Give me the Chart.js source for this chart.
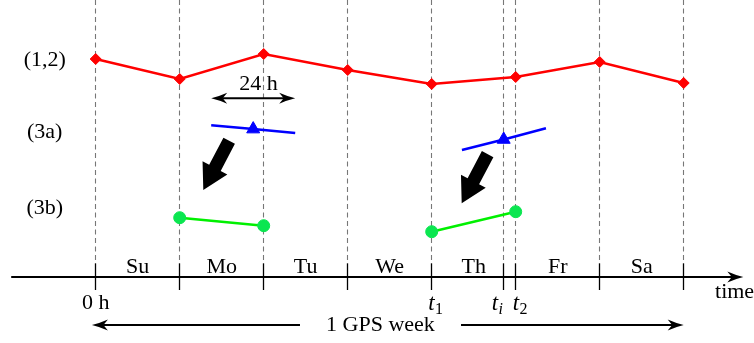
<!DOCTYPE html>
<html>
<head>
<meta charset="utf-8">
<title>GPS week</title>
<script src="https://cdn.jsdelivr.net/npm/chart.js@4.4.1/dist/chart.umd.min.js"></script>
<style>
  html, body { margin: 0; padding: 0; background: #fff; }
  #wrap { width: 754px; height: 343px; }
</style>
</head>
<body>
<div id="wrap"><canvas id="weekChart" width="754" height="343"></canvas></div>
<script>
// ── data (x in days from 0 h, y in arbitrary level units; axis line = 0) ──
const dayNames   = ['Su', 'Mo', 'Tu', 'We', 'Th', 'Fr', 'Sa'];
const dayBounds  = [0, 1, 2, 3, 4, 5, 6, 7];
const tI         = 4.857;
const tickDays   = [0, 1, 2, 3, 4, tI, 5, 6, 7];

const rowLabels  = ['(1,2)', '(3a)', '(3b)'];
const rowLevels  = [218, 145.5, 70];

// (1,2): daily values
const redY       = [218, 198, 223, 207, 193, 200, 215, 194];

// (3a): 24 h fits, marker at the middle
const blueMonX   = [1.375, 1.875, 2.375];
const blueMonY   = [151.7, 147.9, 144];
const blueThuX   = [4.36, tI, 5.36];
const blueThuY   = [127, 137.5, 148.7];

// (3b)
const greenMonX  = [1, 2];
const greenMonY  = [59.3, 51.3];
const greenThuX  = [4, 5];
const greenThuY  = [45.3, 65.3];

const pts = (xs, ys) => xs.map((x, i) => ({x, y: ys[i]}));

const SERIF = "'Liberation Serif','Times New Roman',serif";

// ── helpers ──
function stealthHead(ctx, x, y, ang, len, half) {
  ctx.save();
  ctx.translate(x, y); ctx.rotate(ang);
  ctx.beginPath();
  ctx.moveTo(0, 0);
  ctx.quadraticCurveTo(-len * 0.5, -half * 0.35, -len, -half);
  ctx.lineTo(-len * 0.72, 0);
  ctx.lineTo(-len, half);
  ctx.quadraticCurveTo(-len * 0.5, half * 0.35, 0, 0);
  ctx.closePath();
  ctx.fill();
  ctx.restore();
}

function thinArrow(ctx, x1, y1, x2, y2, both) {
  const ang = Math.atan2(y2 - y1, x2 - x1);
  const len = 16, half = 5.5, back = len * 0.7;
  const sx = both ? x1 + Math.cos(ang) * back : x1, sy = both ? y1 + Math.sin(ang) * back : y1;
  ctx.beginPath();
  ctx.moveTo(sx, sy);
  ctx.lineTo(x2 - Math.cos(ang) * back, y2 - Math.sin(ang) * back);
  ctx.stroke();
  stealthHead(ctx, x2, y2, ang, len, half);
  if (both) stealthHead(ctx, x1, y1, ang + Math.PI, len, half);
}

function fatArrow(ctx, x1, y1, x2, y2) {
  const dx = x2 - x1, dy = y2 - y1, L = Math.hypot(dx, dy);
  const ux = dx / L, uy = dy / L, px = -uy, py = ux;
  const sw = 6.5, hw = 14, hl = 25;
  const bx = x2 - ux * hl, by = y2 - uy * hl;
  ctx.beginPath();
  ctx.moveTo(x1 + px * sw, y1 + py * sw);
  ctx.lineTo(bx + px * sw, by + py * sw);
  ctx.lineTo(bx + px * hw, by + py * hw);
  ctx.lineTo(x2, y2);
  ctx.lineTo(bx - px * hw, by - py * hw);
  ctx.lineTo(bx - px * sw, by - py * sw);
  ctx.lineTo(x1 - px * sw, y1 - py * sw);
  ctx.closePath();
  ctx.fill();
}

// ── background: dashed day lines ──
const gridPlugin = {
  id: 'dayGrid',
  beforeDatasetsDraw(chart) {
    const {ctx, scales: {x, y}} = chart;
    ctx.save();
    ctx.strokeStyle = '#777';
    ctx.lineWidth = 1.1;
    ctx.setLineDash([5, 3.5]);
    tickDays.forEach(d => {
      const px = Math.floor(x.getPixelForValue(d)) + 0.5;
      ctx.beginPath();
      ctx.moveTo(px, y.getPixelForValue(277));
      ctx.lineTo(px, y.getPixelForValue(13.7));
      ctx.stroke();
    });
    ctx.restore();
  }
};

// ── foreground: axis, ticks, arrows, text ──
const decoPlugin = {
  id: 'deco',
  afterDatasetsDraw(chart) {
    const {ctx, scales: {x, y}} = chart;
    const X = v => x.getPixelForValue(v), Y = v => y.getPixelForValue(v);
    ctx.save();
    ctx.fillStyle = '#000';
    ctx.strokeStyle = '#000';

    // time axis
    ctx.lineWidth = 2;
    thinArrow(ctx, X(-1.006), Y(0), X(7.71), Y(0), false);
    ctx.lineWidth = 1.3;
    tickDays.forEach(d => {
      const px = Math.floor(X(d)) + 0.5;
      ctx.beginPath(); ctx.moveTo(px, Y(13.7)); ctx.lineTo(px, Y(-13)); ctx.stroke();
    });

    // 24 h arrow
    ctx.lineWidth = 2;
    thinArrow(ctx, X(1.375), Y(178.7), X(2.375), Y(178.7), true);

    // 1 GPS week arrows
    thinArrow(ctx, X(2.432), Y(-48), X(-0.045), Y(-48), false);
    thinArrow(ctx, X(4.349), Y(-48), X(7.0), Y(-48), false);

    // big arrows (3a) -> (3b)
    fatArrow(ctx, X(1.589), Y(136.2), X(1.281), Y(87));
    fatArrow(ctx, X(4.666), Y(122.9), X(4.357), Y(73.7));

    // text
    ctx.font = `22px ${SERIF}`;
    ctx.textAlign = 'center';
    ctx.textBaseline = 'middle';
    rowLabels.forEach((t, i) => ctx.fillText(t, X(-0.607), Y(rowLevels[i]) + 1));

    ctx.textBaseline = 'alphabetic';
    dayNames.forEach((n, i) => ctx.fillText(n, X(dayBounds[i] + 0.5), Y(4.5)));
    ctx.fillText('24 h', X(1.938), Y(187.5));
    ctx.fillText('1 GPS week', X(3.39), Y(-53.5));
    ctx.fillText('0 h', X(0), Y(-31.5));
    ctx.textAlign = 'left';
    ctx.fillText('time', X(7.373), Y(-21));

    // t1, ti, t2
    const tLabels = [[4, '1', -3.5], [tI, 'i', -12], [5, '2', -3]];
    tLabels.forEach(([d, sub, off]) => {
      const px = X(d) + off, py = Y(-33);
      ctx.font = `italic 23px ${SERIF}`;
      ctx.fillText('t', px, py);
      const w = ctx.measureText('t').width;
      ctx.font = (sub === 'i' ? 'italic ' : '') + `16px ${SERIF}`;
      ctx.fillText(sub, px + w + 0.5, py + 4);
    });
    ctx.restore();
  }
};

const lineDs = (data, color, ptColor, style, radius) => ({
  data, borderColor: color, borderWidth: 2.5, tension: 0, fill: false, clip: false,
  pointStyle: style, pointRadius: radius, pointBackgroundColor: ptColor,
  pointBorderColor: ptColor, pointBorderWidth: 1, pointHoverRadius: radius
});

new Chart(document.getElementById('weekChart'), {
  type: 'line',
  data: {
    datasets: [
      lineDs(pts(dayBounds, redY), '#ff0000', '#ff0000', 'rectRot', 5.5),
      lineDs(pts(blueMonX, blueMonY), '#0000ff', '#0000ff', 'triangle', [0, 7.5, 0]),
      lineDs(pts(blueThuX, blueThuY), '#0000ff', '#0000ff', 'triangle', [0, 7.5, 0]),
      lineDs(pts(greenMonX, greenMonY), '#00f000', '#0be650', 'circle', 6),
      lineDs(pts(greenThuX, greenThuY), '#00f000', '#0be650', 'circle', 6)
    ]
  },
  options: {
    responsive: false,
    animation: false,
    devicePixelRatio: 1,
    layout: {padding: 0, autoPadding: false},
    plugins: {legend: {display: false}, tooltip: {enabled: false}},
    events: [],
    scales: {
      x: {type: 'linear', display: false, min: -95.7 / 84, max: (754 - 95.7) / 84},
      y: {type: 'linear', display: false, min: -66, max: 277}
    }
  },
  plugins: [gridPlugin, decoPlugin]
});
</script>
</body>
</html>
